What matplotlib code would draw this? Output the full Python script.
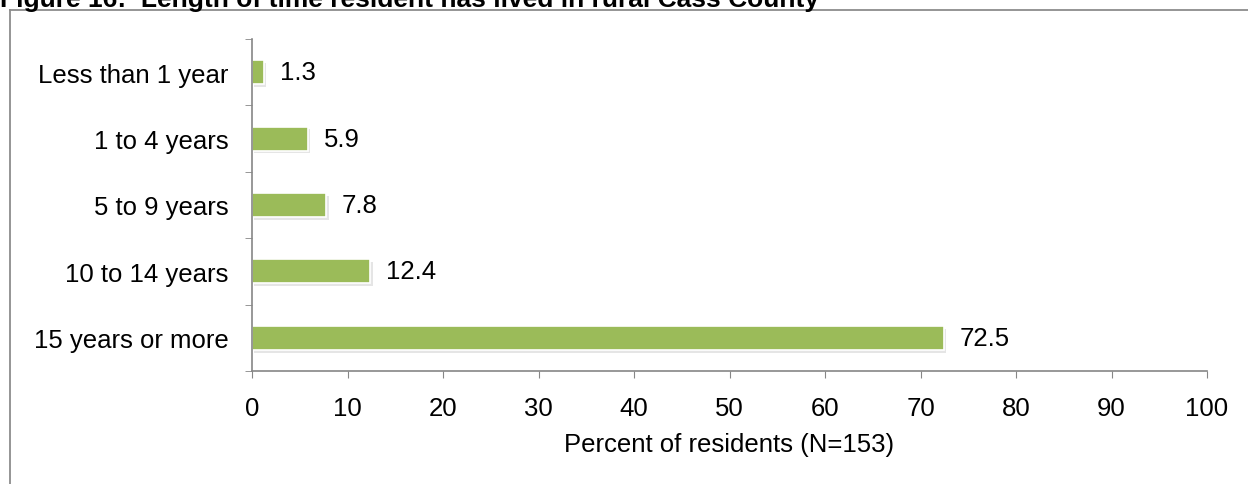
import matplotlib.pyplot as plt
import matplotlib.patheffects as pe
from matplotlib.lines import Line2D
import numpy as np

plt.rcParams['font.family'] = ['Liberation Sans', 'DejaVu Sans']

categories = ["Less than 1 year", "1 to 4 years", "5 to 9 years",
              "10 to 14 years", "15 years or more"]
values = [1.3, 5.9, 7.8, 12.4, 72.5]
xticks = [0, 10, 20, 30, 40, 50, 60, 70, 80, 90, 100]
title = "Figure 16:  Length of time resident has lived in rural Cass County"
xlabel = "Percent of residents (N=153)"

W, H = 1248, 485
fig = plt.figure(figsize=(W / 100, H / 100), dpi=100)
ax = fig.add_axes([252 / W, (H - 372) / H, (1207 - 252) / W, (372 - 40) / H])

FS = 18.5

y = np.arange(len(categories))
bars = ax.barh(y, values, height=0.36, color="#9BBB59", edgecolor="white",
               linewidth=1.2)
for b in bars:
    b.set_path_effects([pe.SimplePatchShadow(offset=(1.5, -2), shadow_rgbFace="#aaaaaa", alpha=0.3),
                        pe.Normal()])

for yi, v in zip(y, values):
    ax.text(v + 1.6, yi, f"{v}", va="center", ha="left", fontsize=FS)

ax.set_xlim(0, 100)
ax.set_ylim(len(categories) - 0.5, -0.5)
ax.set_xticks(xticks)
ax.set_xticklabels([str(t) for t in xticks], fontsize=FS)
ax.set_yticks(y)
ax.set_yticklabels(categories, fontsize=FS)
ax.set_yticks(np.arange(-0.5, len(categories)), minor=True)

ax.tick_params(axis="y", which="major", length=0, pad=17)
ax.tick_params(axis="y", which="minor", length=5, color="#868686", direction="out")
ax.tick_params(axis="x", length=5, color="#868686", direction="out", pad=13)

for s in ["top", "right"]:
    ax.spines[s].set_visible(False)
for s in ["left", "bottom"]:
    ax.spines[s].set_color("#868686")
    ax.spines[s].set_linewidth(1.2)

ax.set_xlabel(xlabel, fontsize=FS, labelpad=9)

# outer chart frame
fig.add_artist(Line2D([10 / W, 1.0], [1 - 11 / H, 1 - 11 / H], color="#8c8c8c", lw=1.3))
fig.add_artist(Line2D([10 / W, 10 / W], [0, 1 - 11 / H], color="#8c8c8c", lw=1.3))

fig.text(0 / W, 1 - 7 / H, title, fontsize=19, fontweight="bold",
         family=["Liberation Sans Narrow", "Liberation Sans"], va="baseline", ha="left")

fig.savefig("out.png", dpi=100)
